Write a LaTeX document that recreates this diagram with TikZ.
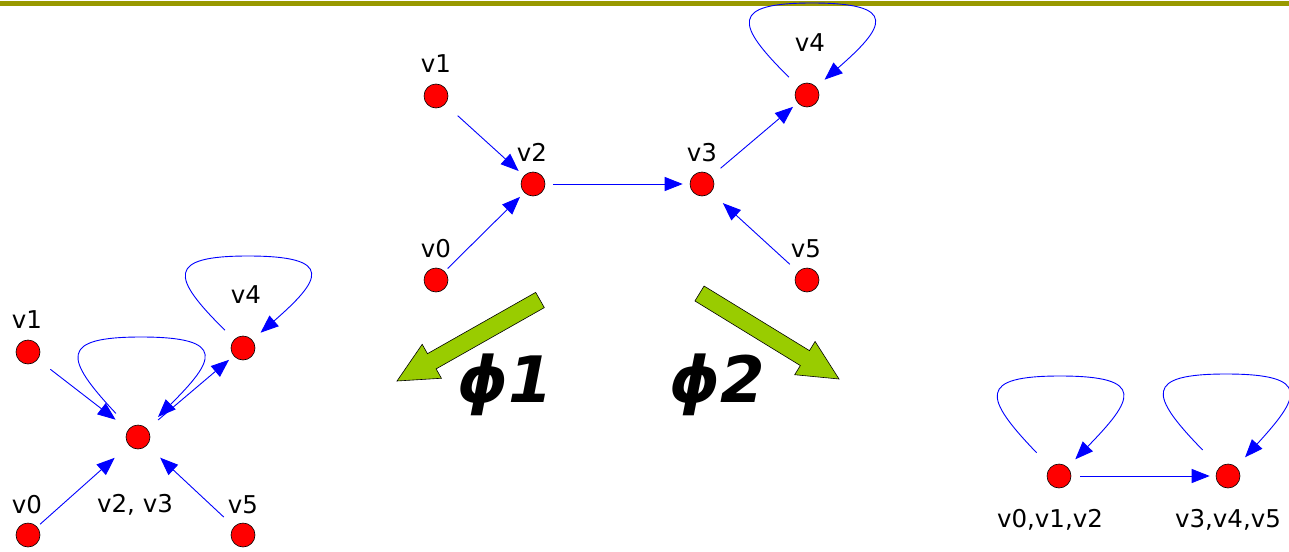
\documentclass[tikz,border=0pt]{standalone}
\usepackage{fontspec}
\setmainfont{DejaVu Sans}
\usetikzlibrary{arrows.meta,calc}
\definecolor{barolive}{RGB}{153,153,0}
\definecolor{arrowgreen}{RGB}{153,204,0}
\newcommand\greenarrow[2]{%
  \path[bigarrow]
    ($(#1)!8.75pt!90:(#2)$) --
    ($($(#2)!40pt!(#1)$)!8.75pt!90:(#2)$) --
    ($($(#2)!40pt!(#1)$)!19.5pt!90:(#2)$) --
    (#2) --
    ($($(#2)!40pt!(#1)$)!19.5pt!-90:(#2)$) --
    ($($(#2)!40pt!(#1)$)!8.75pt!-90:(#2)$) --
    ($(#1)!8.75pt!-90:(#2)$) -- cycle;}
% self loop: #1 node, #2 offset of the loop, #3/#4 start/end gaps
\newcommand\selfloop[4]{%
  \draw[conn,shorten <=#3,shorten >=#4] (#1)
    .. controls ($(#1)+#2+(-72,-71)$) and ($(#1)+#2+(-77,-92)$) .. ($(#1)+#2+(5,-92)$)
    .. controls ($(#1)+#2+(93,-92)$) and ($(#1)+#2+(78,-68)$) .. (#1);}
\begin{document}
\begin{tikzpicture}[x=1pt,y=-1pt,
  vtx/.style={circle,fill=red,draw=black,line width=0.6pt,minimum size=24pt,inner sep=0pt},
  lbl/.style={anchor=base,inner sep=0pt,font=\fontsize{24.5}{29}\selectfont},
  conn/.style={draw=blue,line width=0.9pt,-{Triangle[length=18pt,width=14pt]}},
  bigarrow/.style={fill=arrowgreen,draw=black,line width=0.6pt,line join=miter},
  philbl/.style={anchor=base,inner sep=0pt,font=\fontsize{64}{72}\selectfont\bfseries\itshape}]
\useasboundingbox (0,0) rectangle (1289,551);
\fill[barolive] (0,1) rectangle (1289,6);

% ---------- centre graph ----------
\node[vtx] (cv1) at (436,96) {};
\node[vtx] (cv2) at (533,184) {};
\node[vtx] (cv0) at (436,280) {};
\node[vtx] (cv3) at (702,184) {};
\node[vtx] (cv4) at (807,95) {};
\node[vtx] (cv5) at (807,280) {};
\node[lbl] (lcv1) at (436,72) {v1};
\node[lbl] (lcv2) at (532,161) {v2};
\node[lbl] (lcv3) at (702,161) {v3};
\node[lbl] (lcv0) at (436,257) {v0};
\node[lbl] (lcv5) at (806,257) {v5};
\node[lbl] (lcv4) at (810,52) {v4};
\draw[conn,shorten <=17pt,shorten >=7pt] (cv1) -- (cv2);
\draw[conn,shorten <=4pt,shorten >=6pt] (cv0) -- (cv2);
\draw[conn,shorten <=8pt,shorten >=7pt] (cv2) -- (cv3);
\draw[conn,shorten <=12pt,shorten >=6pt] (cv3) -- (cv4);
\draw[conn,shorten <=11pt,shorten >=16pt] (cv5) -- (cv3);
\selfloop{cv4}{(0,0)}{13pt}{11pt}

% ---------- green arrows ----------
\coordinate (a1tail) at (540,300);
\coordinate (a1tip) at (397,381);
\coordinate (a2tail) at (699.5,293.5);
\coordinate (a2tip) at (839,379);
\greenarrow{a1tail}{a1tip}
\greenarrow{a2tail}{a2tip}
\node[philbl] (phi1) at (505,402) {ϕ1};
\node[philbl] (phi2) at (717,402) {ϕ2};

% ---------- left graph ----------
\node[vtx] (lv1) at (28,352) {};
\node[vtx] (lv4) at (243,348) {};
\node[vtx] (lc) at (138,437) {};
\node[vtx] (lv0) at (28,535) {};
\node[vtx] (lv5) at (243,535) {};
\node[lbl] (llv1) at (27,328) {v1};
\node[lbl] (llv4) at (246,303) {v4};
\node[lbl] (llv0) at (27,513) {v0};
\node[lbl] (llv5) at (243,513) {v5};
\node[lbl] (llc) at (135,512) {v2, v3};
\draw[conn,shorten <=16pt,shorten >=16pt] (lv1) -- (lc);
\draw[conn,shorten <=4pt,shorten >=19pt] (lv0) -- (lc);
\draw[conn,shorten <=14pt,shorten >=18pt] (lv5) -- (lc);
\draw[conn,shorten <=14pt,shorten >=6pt] (lc) -- (lv4);
\selfloop{lc}{(-2,-8)}{20pt}{16pt}
\selfloop{lv4}{(0,0)}{13pt}{11pt}

% ---------- right graph ----------
\node[vtx] (ra) at (1059,476) {};
\node[vtx] (rb) at (1228,476) {};
\node[lbl] (lra) at (1050,527) {v0,v1,v2};
\node[lbl] (lrb) at (1228,527) {v3,v4,v5};
\draw[conn,shorten <=9pt,shorten >=6pt] (ra) -- (rb);
\selfloop{ra}{(-4,-8)}{20pt}{11pt}
\selfloop{rb}{(-7,-10)}{24pt}{13pt}
\end{tikzpicture}
\end{document}
